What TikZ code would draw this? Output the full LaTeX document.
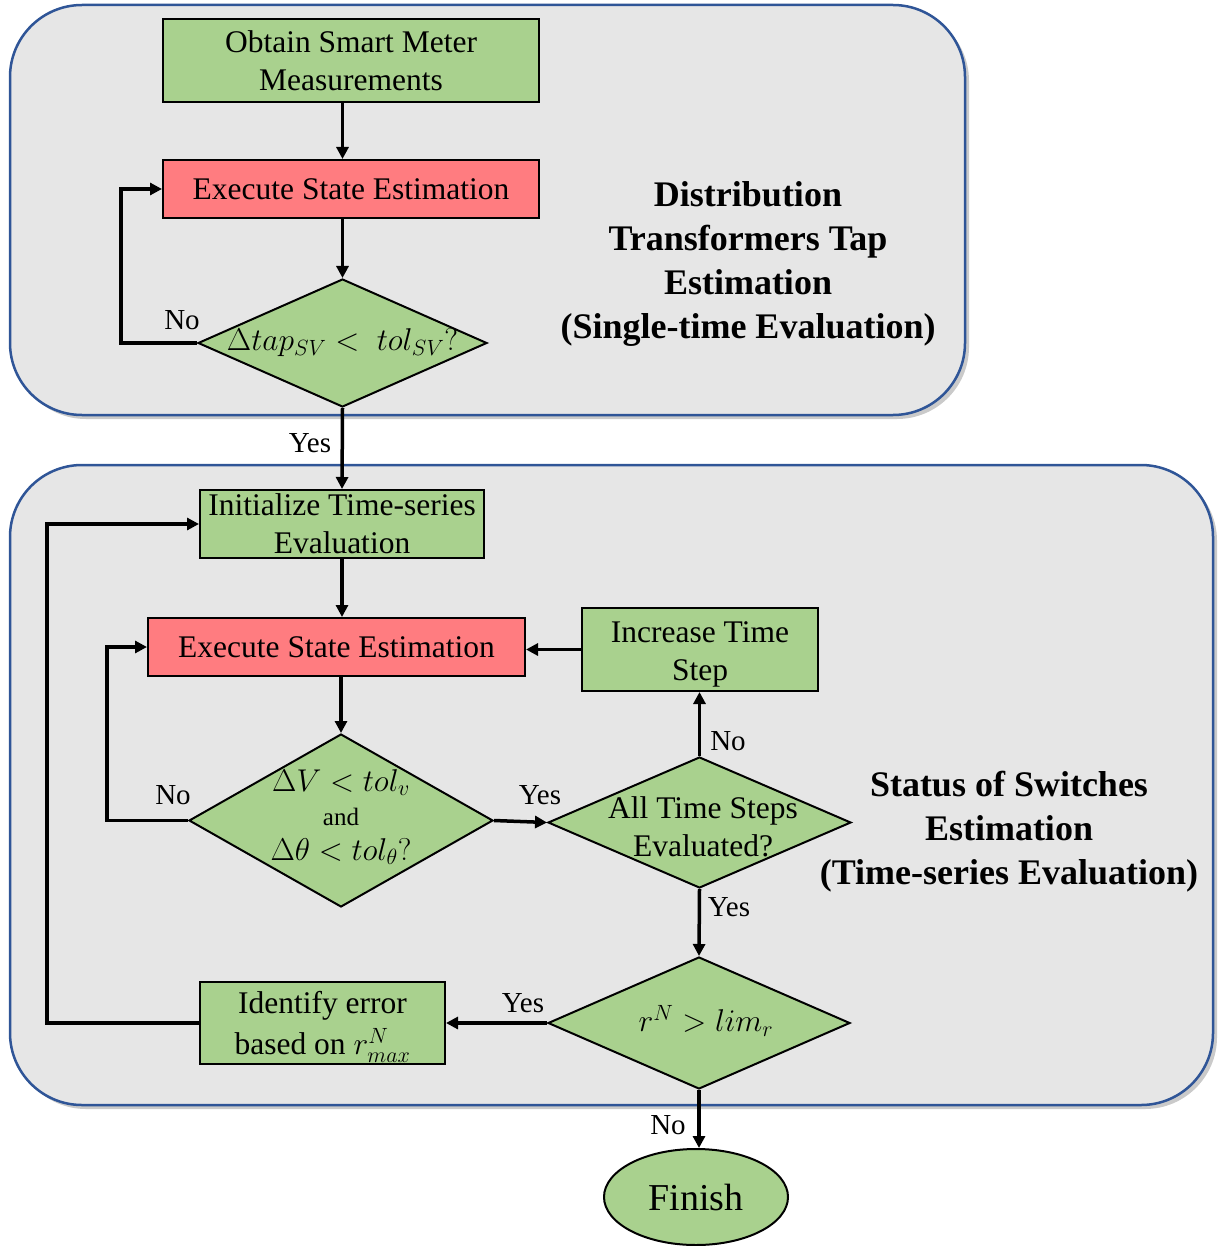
\documentclass[tikz,border=0pt]{standalone}
\usepackage{fix-cm}
\usepackage{fontspec}
\setmainfont{Liberation Serif}
\usetikzlibrary{shapes.geometric,arrows.meta,shadows}

\definecolor{boxgreen}{HTML}{A9D18E}
\definecolor{boxred}{HTML}{FF7C80}
\definecolor{panelgray}{HTML}{E6E6E6}
\definecolor{panelblue}{HTML}{2F5597}

\tikzset{
  panel/.style={draw=panelblue, line width=2.5pt, fill=panelgray, rounded corners=72pt,
    inner sep=0pt,
    drop shadow={shadow xshift=4pt, shadow yshift=-4pt, opacity=0.35, fill=black!60}},
  procbox/.style={draw=black, line width=2pt, fill=boxgreen, inner sep=0pt, align=center,
    font=\fontsize{31.5}{38}\selectfont},
  redbox/.style={procbox, fill=boxred},
  decision/.style={diamond, draw=black, line width=2pt, fill=boxgreen, inner sep=0pt},
  dtext/.style={font=\fontsize{31.5}{38}\selectfont, align=center, inner sep=0pt},
  flow/.style={line width=3.5pt, -{Triangle[length=12pt,width=12pt]}},
  tag/.style={font=\fontsize{29}{34}\selectfont, inner sep=0pt},
  heading/.style={font=\fontsize{36}{44}\selectfont\bfseries, align=center, inner sep=0pt}
}

\begin{document}
\begin{tikzpicture}[x=1pt,y=-1pt]
  \useasboundingbox (0,0) rectangle (1230,1246);

  % background panels
  \node[panel, minimum width=955pt, minimum height=410pt] (toppanel) at (487.5,210) {};
  \node[panel, minimum width=1203pt, minimum height=640pt] (botpanel) at (611.5,785) {};

  % panel headings
  \node[heading] (tophead) at (748,264) {Distribution\\Transformers Tap\\Estimation\\(Single-time Evaluation)};
  \node[heading] (bothead) at (1009,832) {Status of Switches\\Estimation\\(Time-series Evaluation)};

  % single-time stage
  \node[procbox, minimum width=376pt, minimum height=83pt] (obtain) at (351,60.5) {Obtain Smart Meter\\Measurements};
  \node[redbox, minimum width=376pt, minimum height=58pt] (exec1) at (351,189) {Execute State Estimation};
  \node[decision, minimum width=289pt, minimum height=128pt] (d1) at (342.5,343) {};
  \node[dtext] (d1t) at (342.5,343) {$\Delta tap_{SV} <\; tol_{SV}?$};

  % time-series stage
  \node[procbox, minimum width=284pt, minimum height=68pt] (init) at (342,524) {Initialize Time-series\\Evaluation};
  \node[redbox, minimum width=377pt, minimum height=58pt] (exec2) at (336.5,647) {Execute State Estimation};
  \node[decision, minimum width=304pt, minimum height=173pt] (d2) at (341,820.5) {};
  \node[dtext] (d2t) at (341,817) {$\Delta V < tol_v$\\[-4pt]{\fontsize{25}{30}\selectfont and}\\[-3pt]$\Delta\theta < tol_\theta?$};
  \node[procbox, minimum width=236pt, minimum height=83pt] (inc) at (700,649.5) {\rule{0pt}{30pt}Increase Time\\Step};
  \node[decision, minimum width=303pt, minimum height=131pt] (d3) at (699.5,822.5) {};
  \node[dtext] (d3t) at (703,827) {All Time Steps\\Evaluated?};
  \node[decision, minimum width=302pt, minimum height=132pt] (d4) at (699,1023) {};
  \node[dtext] (d4t) at (706,1021) {$r^N > lim_r$};
  \node[procbox, minimum width=245pt, minimum height=82pt] (ident) at (322.5,1023) {\rule{0pt}{30pt}Identify error\\[3pt]based on $r^N_{max}$};
  \node[ellipse, draw=black, line width=2pt, fill=boxgreen, minimum width=184pt, minimum height=96pt,
    inner sep=0pt, font=\fontsize{38}{44}\selectfont] (finish) at (696,1197) {Finish};

  % connectors
  \draw[flow] (obtain.south -| d1.north) -- (exec1.north -| d1.north);
  \draw[flow] (exec1.south -| d1.north) -- (d1.north);
  \draw[flow] (d1.west) -- ++(-76,0) |- (exec1.west);
  \draw[flow] (d1.south) -- (init.north);
  \draw[flow] (init.south) -- (init.south |- exec2.north);
  \draw[flow] (exec2.south -| d2.north) -- (d2.north);
  \draw[flow] (d2.west) -- ++(-81,0) |- (exec2.west);
  \draw[flow] (d2.east) -- (d3.west);
  \draw[flow] (d3.north) -- (d3.north |- inc.south);
  \draw[flow] (inc.west) -- (inc.west -| exec2.east);
  \draw[flow] (d3.south) -- (d4.north);
  \draw[flow] (d4.west) -- (ident.east);
  \draw[flow] (ident.west) -- ++(-152,0) |- (init.west);
  \draw[flow] (d4.south) -- (d4.south |- finish.north);

  % branch labels
  \node[tag] (l1) at (182,320) {No};
  \node[tag] (l2) at (310,443) {Yes};
  \node[tag] (l3) at (173,795) {No};
  \node[tag] (l4) at (540,795) {Yes};
  \node[tag] (l5) at (728,741) {No};
  \node[tag] (l6) at (729,907) {Yes};
  \node[tag] (l7) at (523,1003) {Yes};
  \node[tag] (l8) at (668,1125) {No};
\end{tikzpicture}
\end{document}
